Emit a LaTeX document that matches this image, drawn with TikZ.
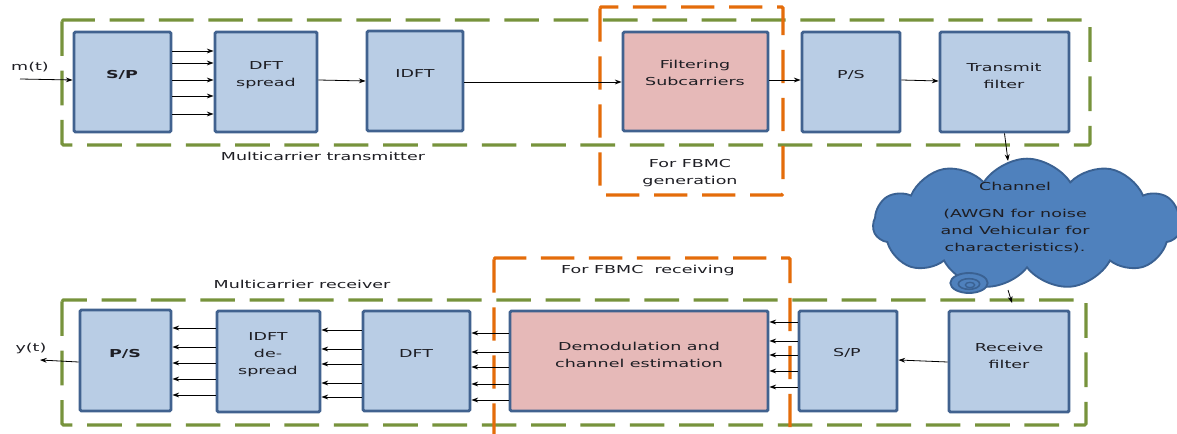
\documentclass[tikz,border=0pt]{standalone}
\usepackage{fontspec}
\setmainfont{DejaVu Sans}[FakeStretch=1.6]
\usetikzlibrary{arrows.meta,fit,shapes.symbols}
\definecolor{boxfill}{HTML}{B9CDE5}
\definecolor{boxline}{HTML}{41628F}
\definecolor{pinkfill}{HTML}{E6B9B8}
\definecolor{cloudfill}{HTML}{4F81BD}
\definecolor{cloudline}{HTML}{3A6192}
\definecolor{grpgreen}{HTML}{77933C}
\definecolor{grporange}{HTML}{E46C0A}
\definecolor{ink}{HTML}{1E1E24}
\begin{document}
\begin{tikzpicture}[x=0.75pt,y=-0.75pt,
  block/.style={draw=boxline, line width=2.2pt, fill=boxfill, rounded corners=1pt, inner sep=0pt},
  pinkblock/.style={block, fill=pinkfill},
  txt/.style={inner sep=0pt, align=center, text=ink, font=\fontsize{8.2}{12.75}\selectfont},
  greengrp/.style={draw=grpgreen, line width=2.3pt, dash pattern=on 26pt off 11pt, rounded corners=1pt},
  orangegrp/.style={draw=grporange, line width=2.5pt, dash pattern=on 25pt off 11pt, rounded corners=1pt},
  arr/.style={draw=black, line width=0.6pt, -{Stealth[length=5pt,width=3.6pt]}}]
\clip (0,0) rectangle (1177,434);
\fill[white] (0,0) rectangle (1177,434);

% group frames
\draw[greengrp] (62,20) rectangle (1090,145);
\draw[greengrp] (62,300) rectangle (1086,425);
\draw[orangegrp] (600,7) rectangle (783,195);
\draw[orangegrp] (494,258) rectangle (790,460);

% transmitter blocks
\node[block, fit={(74,32) (171,132)}] (sp) {};
\node[block, fit={(215,32) (317,132)}] (dft) {};
\node[block, fit={(367,31) (463,131)}] (idft) {};
\node[pinkblock, fit={(623,32) (768,131)}] (filt) {};
\node[block, fit={(802,32) (900,132)}] (ps) {};
\node[block, fit={(940,32) (1069,132)}] (txf) {};

% receiver blocks
\node[block, fit={(80,310) (171,411)}] (psr) {};
\node[block, fit={(217,311) (320,412)}] (idftr) {};
\node[block, fit={(363,311) (470,411)}] (dftr) {};
\node[pinkblock, fit={(510,311) (768,411)}] (demod) {};
\node[block, fit={(799,311) (897,411)}] (spr) {};
\node[block, fit={(949,311) (1069,412)}] (rxf) {};

% channel cloud with its callout tail
\node[cloud, cloud puffs=11, cloud puff arc=115, aspect=2.3, draw=cloudline, line width=1.4pt,
      fill=cloudfill, minimum width=231pt, minimum height=98pt, inner sep=0pt] (cloud) at (1027,224) {};
\draw[draw=cloudline, line width=1.4pt, fill=cloudfill] (969,283) ellipse [x radius=14pt, y radius=7.5pt];
\draw[draw=cloudline, line width=1.2pt] (969,284) ellipse [x radius=8pt, y radius=4pt];
\draw[draw=cloudline, line width=1pt] (970,285) ellipse [x radius=3.5pt, y radius=2pt];

% labels
\node[txt] (mt) at (30,67) {m(t)};
\node[txt] (sp-t) at (122,75) {\bfseries S/P};
\node[txt] (dft-t) at (266,75.5) {DFT\\spread};
\node[txt] (idft-t) at (415,74) {IDFT};
\node[txt] (filt-t) at (695,73) {Filtering\\Subcarriers};
\node[txt] (ps-t) at (851,75) {P/S};
\node[txt] (txf-t) at (1004,75.5) {Transmit\\filter};
\node[txt] (tx-name) at (323,156) {Multicarrier transmitter};
\node[txt] (gen-name) at (690,173) {For FBMC\\generation};
\node[txt] (cloud-t) at (1015,218) {Channel\\[7.5pt](AWGN for noise\\and Vehicular for\\characteristics).};
\node[txt] (rx-name) at (302,284) {Multicarrier receiver};
\node[txt] (recv-name) at (648,270) {For FBMC\ \ receiving};
\node[txt] (yt) at (31,348) {y(t)};
\node[txt] (psr-t) at (125,354) {\bfseries P/S};
\node[txt] (idftr-t) at (268,355) {IDFT\\de-\\spread};
\node[txt] (dftr-t) at (416,354) {DFT};
\node[txt] (demod-t) at (639,355) {Demodulation and\\channel estimation};
\node[txt] (spr-t) at (847,353) {S/P};
\node[txt] (rxf-t) at (1009,355.5) {Receive\\filter};

% free connector ends
\coordinate (min) at (20,79);
\coordinate (yout) at (40,360);
\coordinate (chin) at (1008,161);
\coordinate (chout) at (1008,290);
\coordinate (rxin) at (1012,303);

% transmitter connections
\draw[arr] (min) -- (sp.west |- 0,80);
\foreach \y in {51,63,80,96,114}
  \draw[arr] (sp.east |- 0,\y) -- (dft.west |- 0,\y);
\draw[arr] (dft.east |- 0,80) -- (idft.west |- 0,81);
\draw[arr] (idft.east |- 0,82) -- (filt.west |- 0,82);
\draw[arr] (filt.east |- 0,80) -- (ps.west |- 0,80);
\draw[arr] (ps.east |- 0,80) -- (txf.west |- 0,81);
\draw[arr] (txf.south) -- (chin);
\draw[arr] (chout) -- (rxin);

% receiver connections
\draw[arr] (rxf.west |- 0,362) -- (spr.east |- 0,360);
\foreach \y in {322,341,355,371,387}
  \draw[arr] (spr.west |- 0,\y) -- (demod.east |- 0,\y);
\foreach \y in {333,352,367,384,400}
  \draw[arr] (demod.west |- 0,\y) -- (dftr.east |- 0,\y);
\foreach \y in {330,349,364,383,397}
  \draw[arr] (dftr.west |- 0,\y) -- (idftr.east |- 0,\y);
\foreach \y in {328,347,363,379,395}
  \draw[arr] (idftr.west |- 0,\y) -- (psr.east |- 0,\y);
\draw[arr] (psr.west |- 0,362) -- (yout);
\end{tikzpicture}
\end{document}
